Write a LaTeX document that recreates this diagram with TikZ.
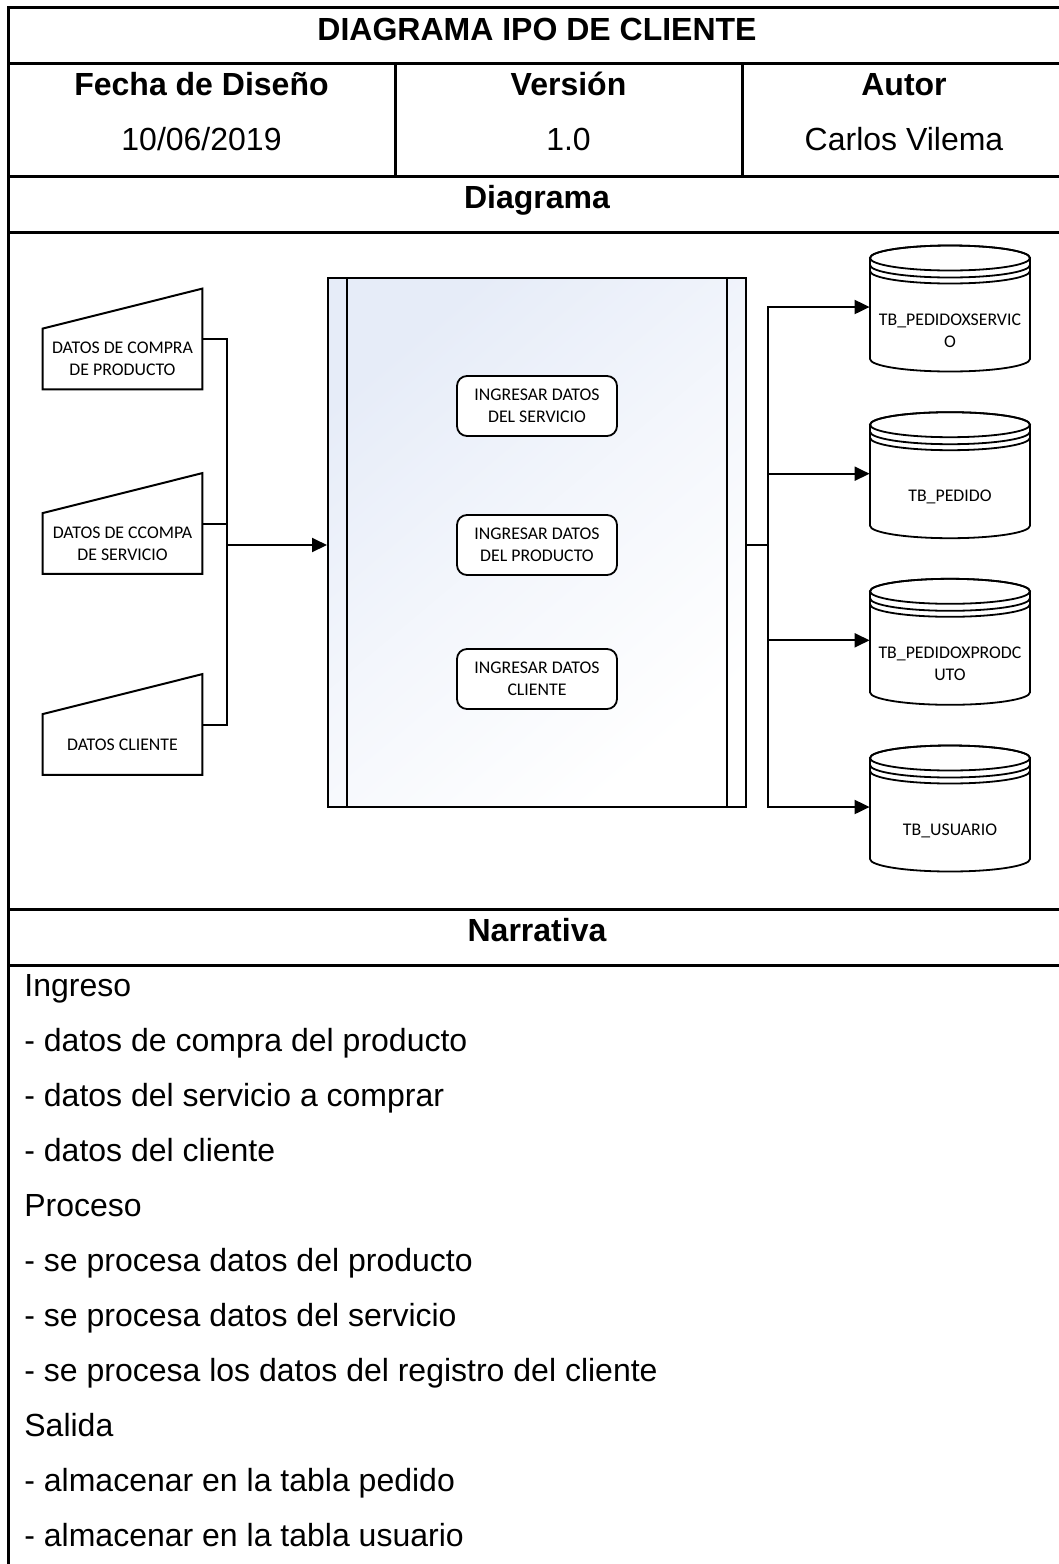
\documentclass[tikz,border=0pt]{standalone}
\usepackage{fontspec}
\setmainfont{Liberation Sans}
\newfontfamily\shapefont{Carlito}
\usetikzlibrary{arrows.meta}
\definecolor{procblue}{HTML}{E6ECF8}

\begin{document}
\begin{tikzpicture}[x=0.5pt,y=-0.5pt,
  grid/.style={line width=1.5pt, line cap=rect},
  hdr/.style={anchor=base, inner sep=0pt, font=\fontsize{16}{19}\selectfont\bfseries},
  val/.style={anchor=base, inner sep=0pt, font=\fontsize{16}{19}\selectfont},
  narr/.style={anchor=base west, inner sep=0pt, font=\fontsize{16}{19}\selectfont},
  conn/.style={line width=1pt},
  arrowconn/.style={conn, -{Triangle[length=7.5pt,width=7pt]}},
  dtext/.style={font=\shapefont\fontsize{8.9}{10.8}\selectfont, align=center, inner sep=0pt},
  inbox/.style={minimum width=79.5pt, minimum height=50pt, inner sep=0pt},
  inshape/.style={draw=black, fill=white, line width=1pt},
  procbox/.style={draw, line width=1pt, minimum width=209pt, minimum height=264.5pt, inner sep=0pt,
    top color=procblue, bottom color=white, middle color=procblue!45!white, shading angle=40},
  task/.style={draw, fill=white, line width=0.9pt, rounded corners=5pt, minimum width=80pt,
    minimum height=30pt, inner sep=0pt, align=center, font=\shapefont\fontsize{8.9}{10.8}\selectfont},
  dbbox/.style={minimum width=80pt, minimum height=63pt, inner sep=0pt},
  cyl/.style={draw=black, line width=0.9pt},
]
\useasboundingbox (0,0) rectangle (1059,1564);
\clip (0,0) rectangle (1059,1564);

% ---------- table frame ----------
\draw[grid] (8,1580) -- (8,7) -- (1075,7);
\foreach \yy in {63,176,232,909,965}
  \draw[grid] (8,\yy) -- (1075,\yy);
\draw[grid] (395,63) -- (395,176);
\draw[grid] (742,63) -- (742,176);

% ---------- header texts ----------
\node[hdr] (title) at (537,40) {DIAGRAMA IPO DE CLIENTE};
\node[hdr] (hfecha) at (201.5,95) {Fecha de Diseño};
\node[val] (vfecha) at (201.5,150) {10/06/2019};
\node[hdr] (hver) at (568.5,95) {Versión};
\node[val] (vver) at (568.5,150) {1.0};
\node[hdr] (haut) at (904,95) {Autor};
\node[val] (vaut) at (904,150) {Carlos Vilema};
\node[hdr] (hdiag) at (537,208) {Diagrama};
\node[hdr] (hnarr) at (537,941) {Narrativa};

% ---------- inputs ----------
\node[inbox] (in1) at (122.5,339) {};
\node[inbox] (in2) at (122.5,523.5) {};
\node[inbox] (in3) at (122.5,724.5) {};
\foreach \n in {in1,in2,in3}
  \filldraw[inshape] ([yshift=-20pt]\n.north west) -- (\n.north east) -- (\n.south east) -- (\n.south west) -- cycle;
\node[dtext] (in1t) at ([yshift=-10pt]in1.center) {DATOS DE COMPRA\\DE PRODUCTO};
\node[dtext] (in2t) at ([yshift=-10pt]in2.center) {DATOS DE CCOMPA\\DE SERVICIO};
\node[dtext] (in3t) at ([yshift=-10pt]in3.center) {DATOS CLIENTE};

% ---------- process ----------
\node[procbox] (proc) at (537,542.5) {};
\draw[conn] ([xshift=10pt]proc.north west) -- ([xshift=10pt]proc.south west);
\draw[conn] ([xshift=-10pt]proc.north east) -- ([xshift=-10pt]proc.south east);
\node[task] (p1) at (537,406) {INGRESAR DATOS\\DEL SERVICIO};
\node[task] (p2) at (537,545) {INGRESAR DATOS\\DEL PRODUCTO};
\node[task] (p3) at (537,679) {INGRESAR DATOS\\CLIENTE};

% ---------- input connectors ----------
\coordinate (jl) at (227,545);
\draw[conn] (in1.east) -| (jl) |- (in3.east);
\draw[conn] (in2.east) -- (in2.east -| jl);
\draw[arrowconn] (jl) -- (jl -| proc.west);

% ---------- tables ----------
\coordinate (jr) at (768,545);
\draw[conn] (jr -| proc.east) -- (jr);
\foreach \i/\yt in {1/258,2/424.7,3/591.3,4/758}{
  \node[dbbox] (db\i) at (950,\yt+49) {};
  \filldraw[cyl, fill=white] (870,\yt) -- (870,\yt+101)
    arc[start angle=180,end angle=360,x radius=40pt,y radius=6.25pt]
    -- (1030,\yt) arc[start angle=0,end angle=180,x radius=40pt,y radius=6.25pt] -- cycle;
  \draw[cyl] (950,\yt) ellipse [x radius=40pt, y radius=6.25pt];
  \draw[cyl] (870,\yt+7) arc[start angle=180,end angle=360,x radius=40pt,y radius=6.25pt];
  \draw[cyl] (870,\yt+13) arc[start angle=180,end angle=360,x radius=40pt,y radius=6.25pt];
  \draw[arrowconn] (jr) |- (db\i.west);
}
\node[dtext] (db1t) at (950,331) {TB\_PEDIDOXSERVIC\\O};
\node[dtext] (db2t) at (950,497) {TB\_PEDIDO};
\node[dtext] (db3t) at (950,664) {TB\_PEDIDOXPRODC\\UTO};
\node[dtext] (db4t) at (950,831) {TB\_USUARIO};

% ---------- narrative ----------
\foreach \txt [count=\k from 0] in {Ingreso,
  - datos de compra del producto,
  - datos del servicio a comprar,
  - datos del cliente,
  Proceso,
  - se procesa datos del producto,
  - se procesa datos del servicio,
  - se procesa los datos del registro del cliente,
  Salida,
  - almacenar en la tabla pedido,
  - almacenar en la tabla usuario}
  \node[narr] (n\k) at (24,996+55*\k) {\txt};
\end{tikzpicture}
\end{document}
